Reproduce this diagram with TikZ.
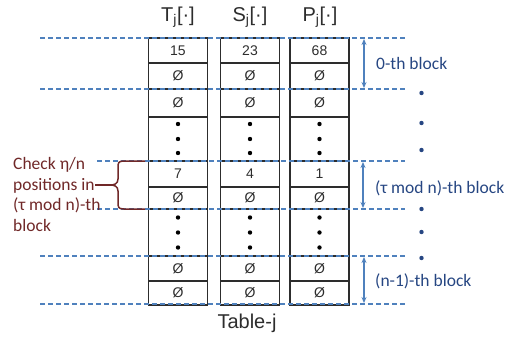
\documentclass[tikz,border=0pt]{standalone}
\usepackage{fontspec}
\setmainfont{Liberation Sans}
\newfontfamily\calib{Carlito}
\usetikzlibrary{arrows.meta}
\definecolor{lineblue}{RGB}{79,129,189}
\definecolor{labelblue}{RGB}{38,70,130}
\definecolor{darkred}{RGB}{112,40,40}
\definecolor{ink}{RGB}{45,45,45}
\tikzset{
  cell/.style={draw=ink, line width=1.1pt, minimum width=59pt, inner sep=0pt,
    text=ink, font=\fontsize{14}{16}\selectfont},
  header/.style={text=ink, font=\fontsize{20}{24}\selectfont, inner sep=0pt},
  blockline/.style={draw=lineblue, line width=1.2pt, dash pattern=on 5pt off 3pt},
  blockarrow/.style={draw=lineblue, line width=1.2pt, {Stealth[length=6pt,width=5pt]}-{Stealth[length=6pt,width=5pt]}},
  blocklabel/.style={text=labelblue, font=\calib\fontsize{17.5}{20}\selectfont, anchor=base west, inner sep=0pt},
  bluedot/.style={fill=labelblue},
  blackdot/.style={fill=black},
}
\begin{document}
\begin{tikzpicture}[x=1pt,y=-1pt]
\useasboundingbox (0,0) rectangle (506,341);

% table columns: name / centre x / entries of the first and the marked row
\foreach \c/\cx/\first/\mid in {T/178/15/7, S/250/23/4, P/319.5/68/1}{
  \node[cell, minimum height=25pt] (\c1) at (\cx,50.5) {\first};
  \node[cell, minimum height=26pt] (\c2) at (\cx,76) {Ø};
  \node[cell, minimum height=28pt] (\c3) at (\cx,103) {Ø};
  \node[cell, minimum height=44pt] (\c4) at (\cx,139) {};
  \node[cell, minimum height=26pt] (\c5) at (\cx,174) {\mid};
  \node[cell, minimum height=22pt] (\c6) at (\cx,198) {Ø};
  \node[cell, minimum height=47pt] (\c7) at (\cx,232.5) {};
  \node[cell, minimum height=25pt] (\c8) at (\cx,268.5) {Ø};
  \node[cell, minimum height=24pt] (\c9) at (\cx,293) {Ø};
  \foreach \dy in {-15,0,14}{
    \fill[blackdot] ([yshift=-\dy pt]\c4.center) circle (2.2pt);
  }
  \foreach \dy in {-15,0,15}{
    \fill[blackdot] ([yshift=-\dy pt]\c7.center) circle (2.2pt);
  }
}

% column headers and caption
\node[header] (hT) at (178,17) {T\textsubscript{j}[·]};
\node[header] (hS) at (250,17) {S\textsubscript{j}[·]};
\node[header] (hP) at (320,17) {P\textsubscript{j}[·]};
\node[header] (cap) at (247,323) {Table-j};

% block boundaries
\coordinate (l0) at (40,38);   \coordinate (r0) at (405,38);
\coordinate (l1) at (40,89);   \coordinate (r1) at (405,89);
\coordinate (l2) at (97,161);  \coordinate (r2) at (405,161);
\coordinate (l3) at (97,209);  \coordinate (r3) at (405,209);
\coordinate (l4) at (40,256);  \coordinate (r4) at (405,256);
\coordinate (l5) at (40,304);  \coordinate (r5) at (405,304);
\foreach \i in {0,...,5}{ \draw[blockline] (l\i) -- (r\i); }

% block extents
\coordinate (a0t) at (364,39);  \coordinate (a0b) at (364,88);
\coordinate (a1t) at (363,162); \coordinate (a1b) at (363,208);
\coordinate (a2t) at (364,257); \coordinate (a2b) at (364,303);
\draw[blockarrow] (a0t) -- (a0b);
\draw[blockarrow] (a1t) -- (a1b);
\draw[blockarrow] (a2t) -- (a2b);
\node[blocklabel] (b0) at (376,69) {0-th block};
\node[blocklabel] (b1) at (375,193) {(τ mod n)-th block};
\node[blocklabel] (b2) at (375,286) {(n-1)-th block};
\foreach \y in {93,123,150,209,232,258}{
  \fill[bluedot] (421.5,\y) circle (2.2pt);
}

% left annotation with brace
\node[text=darkred, font=\calib\fontsize{17.5}{20.7}\selectfont, align=left, anchor=north west, inner sep=0pt]
  (note) at (13,157) {Check η/n\\positions in\\(τ mod n)-th\\block};
\coordinate (tip) at (110,185);
\coordinate (noteend) at (95,185);
\draw[darkred, line width=1.5pt] (noteend) -- (tip);
\draw[darkred, line width=1.5pt]
  (145,161) -- (124,161) .. controls (118,161) and (118,163) .. (118,168)
  -- (118,179) .. controls (118,184) and (114,185) .. (tip)
  .. controls (114,185) and (118,186) .. (118,191)
  -- (118,202) .. controls (118,207) and (118,209) .. (124,209) -- (145,209);
\end{tikzpicture}
\end{document}
